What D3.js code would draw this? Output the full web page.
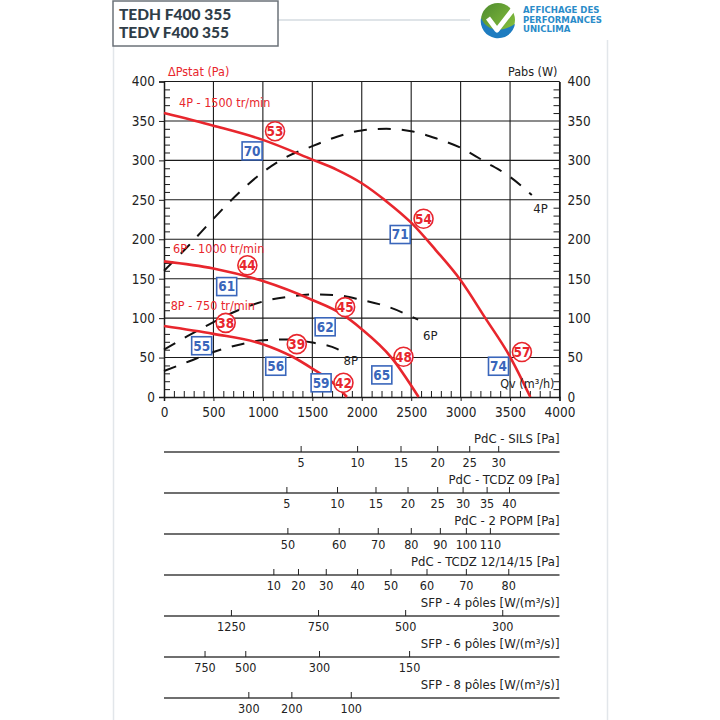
<!DOCTYPE html>
<html lang="fr">
<head>
    <meta charset="UTF-8">
    <title>TEDH F400 355 / TEDV F400 355</title>
    <style>
        body { margin: 0; background: #fff; }
        svg { display: block; }
        text { font-family: "Liberation Sans Narrow", "DejaVu Sans Condensed", "Roboto Condensed", sans-serif; }
        .tick-label { font-size: 13.5px; fill: #222; }
        .red { fill: #e8262d; }
        .model { font-family: Lato, "Open Sans", sans-serif; font-weight: 900; font-size: 15.5px; fill: #2f3d48; }
        .logo { font-family: "DejaVu Sans Condensed", "Open Sans", sans-serif; font-weight: bold; font-size: 9.5px; fill: #2a8cc9; }
    </style>
</head>
<body>
<div id="chart"></div>
<script src="https://d3js.org/d3.v7.min.js"></script>
<script>
    // Courbes de pression statique (Pa) en fonction du débit Qv (m3/h)
    const qv4 = [0, 500, 1000, 1500, 1750, 2000, 2250, 2500, 2750, 3000, 3250, 3500, 3705];
    const dp4 = [360, 344, 326, 301, 288, 271, 248, 221, 186, 148, 100, 51, 0];
    const qv6 = [0, 500, 1000, 1500, 1800, 2000, 2300, 2575];
    const dp6 = [172, 163, 147, 123, 105, 86, 50, 0];
    const qv8 = [0, 500, 1000, 1300, 1500, 1700, 1850];
    const dp8 = [90, 80, 67, 51, 36, 19, 0];

    // Puissance absorbée (W), axe de droite
    const pqv4 = [0, 250, 500, 750, 1000, 1250, 1500, 1750, 2000, 2250, 2500, 2750, 3000, 3250, 3500, 3720];
    const pw4 = [160, 192, 226, 258, 285, 305, 318, 330, 338, 340, 337, 328, 316, 298, 279, 256];
    const pqv6 = [0, 250, 500, 750, 1000, 1250, 1500, 1750, 2000, 2250, 2570];
    const pw6 = [60, 78, 95, 110, 121, 127, 130, 129, 123, 115, 98];
    const pqv8 = [0, 250, 500, 750, 1000, 1250, 1500, 1750, 1820];
    const pw8 = [33, 45, 57, 66, 72, 73, 69, 61, 56];

    // Repères : cercles rouges et carrés bleus
    const circleQv = [1123, 2625, 843, 1832, 624, 1343, 1815, 2422, 3620];
    const circleDp = [337, 226, 167, 114, 94, 67, 18, 51, 57];
    const circleTxt = ["53", "54", "44", "45", "38", "39", "42", "48", "57"];
    const squareQv = [891, 2389, 634, 1630, 381, 1130, 1589, 2203, 3383];
    const squareDp = [312, 206, 140, 89, 65, 39, 18, 28, 39];
    const squareTxt = ["70", "71", "61", "62", "55", "56", "59", "65", "74"];

    // Étiquettes des courbes (position en unités du graphique)
    const curveNames = ["4P - 1500 tr/min", "6P - 1000 tr/min", "8P - 750 tr/min"];
    const curveNameQv = [152, 91, 68];
    const curveNameDp = [368, 183, 110];
    const powerNames = ["4P", "6P", "8P"];
    const powerNameQv = [3734, 2620, 1816];
    const powerNameW = [233, 72, 41];

    // Échelles secondaires sous le graphique : valeurs et débit correspondant
    const scaleTitles = ["PdC - SILS [Pa]", "PdC - TCDZ 09 [Pa]", "PdC - 2 POPM [Pa]", "PdC - TCDZ 12/14/15 [Pa]",
        "SFP - 4 pôles [W/(m³/s)]", "SFP - 6 pôles [W/(m³/s)]", "SFP - 8 pôles [W/(m³/s)]"];
    const silsTicks = [5, 10, 15, 20, 25, 30];
    const silsQv = [1387, 1958, 2397, 2768, 3092, 3385];
    const tcdz09Ticks = [5, 10, 15, 20, 25, 30, 35, 40];
    const tcdz09Qv = [1243, 1755, 2144, 2468, 2768, 3025, 3268, 3494];
    const popmTicks = [50, 60, 70, 80, 90, 100, 110];
    const popmQv = [1253, 1772, 2167, 2501, 2795, 3058, 3301];
    const tcdz12Ticks = [10, 20, 30, 40, 50, 60, 70, 80];
    const tcdz12Qv = [1111, 1360, 1641, 1958, 2296, 2660, 3058, 3487];
    const sfp4Ticks = [1250, 750, 500, 300];
    const sfp4Qv = [682, 1563, 2444, 3426];
    const sfp6Ticks = [750, 500, 300, 150];
    const sfp6Qv = [415, 827, 1573, 2484];
    const sfp8Ticks = [300, 200, 100];
    const sfp8Qv = [858, 1293, 1894];

    const modelNames = ["TEDH F400 355", "TEDV F400 355"];
    const logoLines = ["AFFICHAGE DES", "PERFORMANCES", "UNICLIMA"];

    const width = 720;
    const height = 720;
    const red = "#e8262d";
    const blue = "#3a66bb";

    const svg = d3.select("#chart")
        .append("svg")
        .attr("width", width)
        .attr("height", height);

    // Cadre clair du panneau
    svg.append("line").attr("x1", 113.5).attr("x2", 113.5).attr("y1", 46).attr("y2", height)
        .attr("stroke", "#e2e6ea").attr("stroke-width", 1.5);
    svg.append("line").attr("x1", 607.5).attr("x2", 607.5).attr("y1", 40).attr("y2", height)
        .attr("stroke", "#e2e6ea").attr("stroke-width", 1.5);

    // Bloc titre
    svg.append("line").attr("x1", 278).attr("x2", 470).attr("y1", 20).attr("y2", 20)
        .attr("stroke", "#d5dbe0").attr("stroke-width", 1.5);
    svg.append("rect").attr("x", 113).attr("y", 1).attr("width", 165).attr("height", 45)
        .attr("fill", "#fff").attr("stroke", "#6b7278").attr("stroke-width", 1.5);
    svg.append("text").attr("class", "model").attr("y", 20)
        .selectAll("tspan").data(modelNames).join("tspan")
        .attr("x", 119).attr("dy", (d, i) => i ? 17.5 : 0).text(d => d);

    // Logo
    const logo = svg.append("g").attr("transform", "translate(498,20)");
    const grad = svg.append("defs").append("linearGradient").attr("id", "green")
        .attr("x1", "0%").attr("y1", "0%").attr("x2", "100%").attr("y2", "100%");
    grad.append("stop").attr("offset", "0%").attr("stop-color", "#4e8a2e");
    grad.append("stop").attr("offset", "100%").attr("stop-color", "#8dc63f");
    logo.append("circle").attr("r", 17).attr("fill", "url(#green)");
    logo.append("path").attr("d", "M-17,-2 C-12,10 2,14 17,4 A17,17 0 0 1 -17,-2 Z").attr("fill", "#1e7cc0");
    logo.append("path").attr("d", "M-10,-2 L-1,10 L20,-17").attr("fill", "none")
        .attr("stroke", "#fff").attr("stroke-width", 5).attr("stroke-linejoin", "round");
    svg.append("text").attr("class", "logo").attr("y", 13)
        .selectAll("tspan").data(logoLines).join("tspan")
        .attr("x", 523).attr("dy", (d, i) => i ? 9.5 : 0).text(d => d);

    // Échelles principales
    const x = d3.scaleLinear().domain([0, 4000]).range([164, 559.5]);
    const y = d3.scaleLinear().domain([0, 400]).range([397, 81.5]);

    // Grille
    svg.append("g").selectAll("line").data(d3.range(500, 4001, 500)).join("line")
        .attr("x1", d => x(d)).attr("x2", d => x(d)).attr("y1", y(0)).attr("y2", y(400))
        .attr("stroke", "#1a1a1a").attr("stroke-width", 1.1);
    svg.append("g").selectAll("line").data(d3.range(50, 401, 50)).join("line")
        .attr("x1", x(0)).attr("x2", x(4000)).attr("y1", d => y(d)).attr("y2", d => y(d))
        .attr("stroke", "#1a1a1a").attr("stroke-width", 1.1);

    // Petites graduations intérieures
    const minorY = d3.range(0, 401, 10).filter(d => d % 50 !== 0);
    svg.append("g").attr("transform", `translate(${x(0)},0)`)
        .call(d3.axisRight(y).tickValues(minorY).tickSize(6).tickFormat(""))
        .call(g => g.select(".domain").remove());
    svg.append("g").attr("transform", `translate(${x(4000)},0)`)
        .call(d3.axisLeft(y).tickValues(minorY).tickSize(6).tickFormat(""))
        .call(g => g.select(".domain").remove());
    const minorX = d3.range(0, 4001, 100).filter(d => d % 500 !== 0);
    svg.append("g").attr("transform", `translate(0,${y(0)})`)
        .call(d3.axisTop(x).tickValues(minorX).tickSize(6).tickFormat(""))
        .call(g => g.select(".domain").remove());

    // Axes principaux
    const yLeft = svg.append("g").attr("transform", `translate(${x(0)},0)`)
        .call(d3.axisLeft(y).tickValues(d3.range(0, 401, 50)).tickSize(5).tickPadding(4));
    const yRight = svg.append("g").attr("transform", `translate(${x(4000)},0)`)
        .call(d3.axisRight(y).tickValues(d3.range(0, 401, 50)).tickSize(0).tickPadding(8));
    const xAxis = svg.append("g").attr("transform", `translate(0,${y(0)})`)
        .call(d3.axisBottom(x).tickValues(d3.range(0, 4001, 500)).tickFormat(d3.format("d"))
            .tickSize(4).tickPadding(6));
    [yLeft, yRight, xAxis].forEach(g => {
        g.attr("font-family", null).attr("font-size", null);
        g.select(".domain").attr("stroke", "#1a1a1a").attr("stroke-width", 1.5);
        g.selectAll(".tick text").attr("class", "tick-label");
    });
    svg.selectAll(".tick line").attr("stroke", "#1a1a1a");

    svg.append("text").attr("class", "red").attr("x", 168).attr("y", 76)
        .attr("font-size", 12.5).text("ΔPstat (Pa)");
    svg.append("text").attr("x", 557.5).attr("y", 76).attr("text-anchor", "end")
        .attr("font-size", 12.5).attr("fill", "#222").text("Pabs (W)");

    const line = d3.line().x(d => x(d[0])).y(d => y(d[1])).curve(d3.curveMonotoneX);

    // Puissance absorbée (tirets noirs)
    [[pqv4, pw4], [pqv6, pw6], [pqv8, pw8]].forEach(([qs, ws]) => {
        svg.append("path")
            .datum(d3.zip(qs, ws))
            .attr("d", line)
            .attr("fill", "none")
            .attr("stroke", "#111")
            .attr("stroke-width", 2)
            .attr("stroke-dasharray", "13,11");
    });

    // Courbes de pression (rouge)
    [[qv4, dp4], [qv6, dp6], [qv8, dp8]].forEach(([qs, ps]) => {
        svg.append("path")
            .datum(d3.zip(qs, ps))
            .attr("d", line)
            .attr("fill", "none")
            .attr("stroke", red)
            .attr("stroke-width", 2.6);
    });

    // Étiquettes des courbes
    svg.append("g").selectAll("text").data(d3.zip(curveNames, curveNameQv, curveNameDp)).join("text")
        .attr("class", "red").attr("font-size", 12.5)
        .attr("x", d => x(d[1])).attr("y", d => y(d[2])).text(d => d[0]);
    svg.append("g").selectAll("text").data(d3.zip(powerNames, powerNameQv, powerNameW)).join("text")
        .attr("font-size", 13).attr("fill", "#222")
        .attr("x", d => x(d[1])).attr("y", d => y(d[2])).text(d => d[0]);
    svg.append("text").attr("font-size", 12.5).attr("fill", "#222").attr("text-anchor", "end")
        .attr("x", x(3949)).attr("y", y(11)).text("Qv (m³/h)");

    // Carrés bleus
    const sq = svg.append("g").selectAll("g").data(d3.zip(squareTxt, squareQv, squareDp)).join("g")
        .attr("transform", d => `translate(${x(d[1])},${y(d[2])})`);
    sq.append("rect").attr("x", -10).attr("y", -9).attr("width", 20).attr("height", 18)
        .attr("fill", "#fff").attr("stroke", blue).attr("stroke-width", 1.6);
    sq.append("text").attr("text-anchor", "middle").attr("dy", "0.36em")
        .attr("font-size", 13.5).attr("font-weight", "bold").attr("fill", blue).text(d => d[0]);

    // Cercles rouges
    const ci = svg.append("g").selectAll("g").data(d3.zip(circleTxt, circleQv, circleDp)).join("g")
        .attr("transform", d => `translate(${x(d[1])},${y(d[2])})`);
    ci.append("circle").attr("r", 9.5)
        .attr("fill", "#fff").attr("stroke", red).attr("stroke-width", 1.6);
    ci.append("text").attr("text-anchor", "middle").attr("dy", "0.36em")
        .attr("font-size", 13.5).attr("font-weight", "bold").attr("fill", red).text(d => d[0]);

    // Échelles secondaires
    const extra = [[silsTicks, silsQv], [tcdz09Ticks, tcdz09Qv], [popmTicks, popmQv], [tcdz12Ticks, tcdz12Qv],
        [sfp4Ticks, sfp4Qv], [sfp6Ticks, sfp6Qv], [sfp8Ticks, sfp8Qv]];
    extra.forEach(([ticks, qs], i) => {
        const ly = 452 + i * 41;
        const g = svg.append("g");
        g.append("line").attr("x1", x(0)).attr("x2", x(4000)).attr("y1", ly).attr("y2", ly)
            .attr("stroke", "#6f6f6f").attr("stroke-width", 2);
        g.append("text").attr("x", x(4000)).attr("y", ly - 9).attr("text-anchor", "end")
            .attr("font-size", 13).attr("fill", "#222").text(scaleTitles[i]);
        const t = g.selectAll("g.t").data(d3.zip(ticks, qs)).join("g").attr("class", "t")
            .attr("transform", d => `translate(${x(d[1])},${ly})`);
        t.append("line").attr("y1", 0).attr("y2", -6).attr("stroke", "#222").attr("stroke-width", 1);
        t.append("text").attr("y", 15).attr("text-anchor", "middle")
            .attr("font-size", 12.5).attr("fill", "#222").text(d => d[0]);
    });
</script>
</body>
</html>
